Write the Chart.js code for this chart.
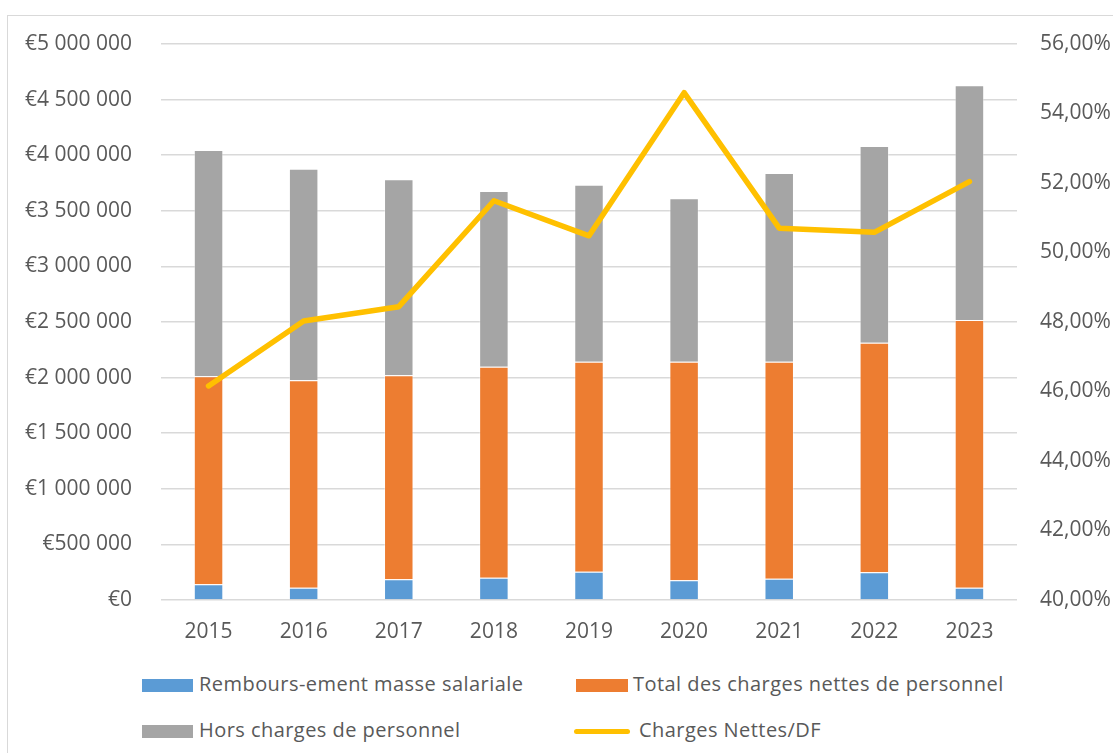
<!DOCTYPE html>
<html>
<head>
<meta charset="utf-8">
<script src="https://cdn.jsdelivr.net/npm/chart.js@4.4.1/dist/chart.umd.min.js"></script>
<style>
  html, body { margin: 0; padding: 0; background: #ffffff; }
  #wrap { position: relative; width: 1113px; height: 753px; overflow: hidden; background: #fff; }
  #frame { position: absolute; left: 7px; top: 15px; width: 1200px; height: 900px; border: 1.5px solid #d9d9d9; box-sizing: border-box; }
  #cbox { position: absolute; left: 0; top: 0; width: 1113px; height: 660px; }
  .lg { position: absolute; font-family: "Open Sans", sans-serif; font-size: 20px; letter-spacing: 0.45px; color: #595959; white-space: nowrap; line-height: 22px; }
  .sw { position: absolute; height: 13px; }
  .ln { position: absolute; height: 5px; border-radius: 3px; }
</style>
</head>
<body>
<div id="wrap">
  <div id="frame"></div>
  <div id="cbox"><canvas id="c" width="1113" height="660"></canvas></div>
  <div id="legend"></div>
</div>
<script>
const categories = ["2015","2016","2017","2018","2019","2020","2021","2022","2023"];
const seriesNames = ["Rembours-ement masse salariale","Total des charges nettes de personnel","Hors charges de personnel","Charges Nettes/DF"];
const remboursement = [141000,111000,186000,201000,255000,177000,192000,249000,111000];
const chargesNettes = [1871000,1865000,1835000,1897000,1888000,1966000,1951000,2065000,2407000];
const horsCharges = [2035000,1903000,1762000,1580000,1592000,1469000,1697000,1769000,2111000];
const ratioNettesDF = [46.16,48.03,48.44,51.49,50.48,54.60,50.70,50.58,52.04];
const leftTicks = [0,5000000,500000];   // min, max, step
const rightTicks = [40,56,2];          // min, max, step

const colors = ["#5B9BD5","#ED7D31","#A5A5A5","#FFC000"];
const tickFont = { family: "'Open Sans', sans-serif", size: 21 };
const tickColor = "#595959";

function euro(v) {
  return "€" + String(Math.round(v)).replace(/\B(?=(\d{3})+(?!\d))/g, " ");
}
function pct(v) {
  return v.toFixed(2).replace(".", ",") + "%";
}

const barBase = { type: "bar", yAxisID: "y", order: 1, barPercentage: 0.31, categoryPercentage: 1.0, borderWidth: 1, borderColor: "rgba(255,255,255,0.35)", stack: "s" };

new Chart(document.getElementById("c"), {
  data: {
    labels: categories,
    datasets: [
      Object.assign({}, barBase, { label: seriesNames[0], data: remboursement, backgroundColor: colors[0] }),
      Object.assign({}, barBase, { label: seriesNames[1], data: chargesNettes, backgroundColor: colors[1] }),
      Object.assign({}, barBase, { label: seriesNames[2], data: horsCharges, backgroundColor: colors[2] }),
      { type: "line", label: seriesNames[3], data: ratioNettesDF, yAxisID: "y1", order: 0,
        borderColor: colors[3], backgroundColor: colors[3], borderWidth: 5.5, pointRadius: 0, pointHoverRadius: 0,
        borderCapStyle: "round", borderJoinStyle: "round", tension: 0, fill: false }
    ]
  },
  options: {
    responsive: false,
    animation: false,
    layout: { padding: { top: 44, left: 0, right: 0, bottom: 0 } },
    plugins: { legend: { display: false }, tooltip: { enabled: false } },
    scales: {
      x: {
        stacked: true,
        offset: true,
        grid: { display: false, drawTicks: false },
        border: { display: false },
        ticks: { font: tickFont, color: tickColor, padding: 19, maxRotation: 0 },
        afterFit: (s) => { s.height = 60; }
      },
      y: {
        stacked: true,
        position: "left",
        min: leftTicks[0], max: leftTicks[1],
        ticks: { stepSize: leftTicks[2], font: tickFont, color: tickColor, padding: 29, callback: (v) => euro(v) },
        grid: { color: "#d9d9d9", lineWidth: 1.5, drawTicks: false },
        border: { display: false },
        afterFit: (s) => { s.width = 161; }
      },
      y1: {
        position: "right",
        min: rightTicks[0], max: rightTicks[1],
        ticks: { stepSize: rightTicks[2], font: tickFont, color: tickColor, padding: 23, callback: (v) => pct(v) },
        grid: { display: false, drawTicks: false },
        border: { display: false },
        afterFit: (s) => { s.width = 96; }
      }
    }
  }
});

// HTML legend (2 x 2 layout)
const legendLayout = [
  { kind: "box", x: 142, y: 685, w: 51, textX: 199 },
  { kind: "box", x: 576, y: 685, w: 52, textX: 633 },
  { kind: "box", x: 142, y: 731, w: 51, textX: 199 },
  { kind: "line", x: 574, y: 731, w: 56, textX: 639 }
];
const lg = document.getElementById("legend");
legendLayout.forEach((it, i) => {
  const m = document.createElement("div");
  if (it.kind === "box") {
    m.className = "sw";
    m.style.left = it.x + "px"; m.style.top = (it.y - 6.5) + "px"; m.style.width = it.w + "px";
  } else {
    m.className = "ln";
    m.style.left = it.x + "px"; m.style.top = (it.y - 2.5) + "px"; m.style.width = it.w + "px";
  }
  m.style.background = colors[i];
  lg.appendChild(m);
  const t = document.createElement("div");
  t.className = "lg";
  t.style.left = it.textX + "px"; t.style.top = (it.y - 12) + "px";
  t.textContent = seriesNames[i];
  lg.appendChild(t);
});
</script>
</body>
</html>
